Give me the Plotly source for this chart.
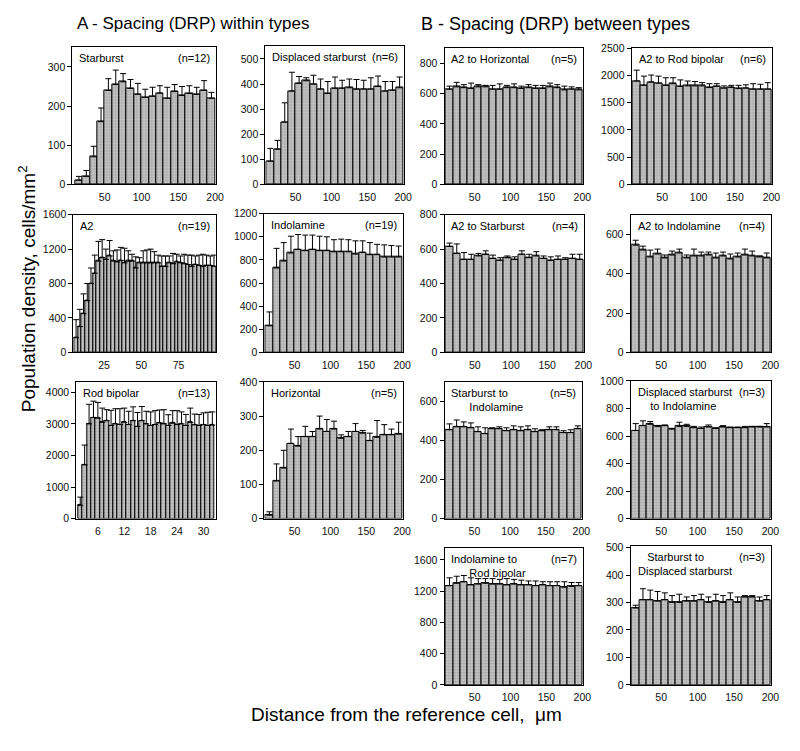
import plotly.graph_objects as go

# The page body has an 8px margin; the figure is sized so page = 800x751.
OFF = 8
FW, FH = 800 - 2 * OFF, 751 - 2 * OFF


def px(x):
    return (x - OFF) / FW


def py(y):
    return 1 - (y - OFF) / FH


# ---------------- data ----------------
dist10 = [15, 25, 35, 45, 55, 65, 75, 85, 95, 105, 115, 125, 135, 145, 155, 165, 175, 185, 195]
dist_a2 = [6.25, 8.75, 11.25, 13.75, 16.25, 18.75, 21.25, 23.75, 26.25, 28.75, 31.25, 33.75,
           36.25, 38.75, 41.25, 43.75, 46.25, 48.75, 51.25, 53.75, 56.25, 58.75, 61.25, 63.75,
           66.25, 68.75, 71.25, 73.75, 76.25, 78.75, 81.25, 83.75, 86.25, 88.75, 91.25, 93.75,
           96.25, 98.75]
dist_rb = [2, 3, 4, 5, 6, 7, 8, 9, 10, 11, 12, 13, 14, 15, 16, 17, 18, 19, 20, 21, 22, 23, 24,
           25, 26, 27, 28, 29, 30, 31, 32]

starburst_mean = [10, 20, 70, 160, 240, 255, 262, 245, 230, 222, 225, 233, 220, 237, 227, 232, 230, 240, 220]
starburst_upper = [20, 35, 97, 195, 270, 292, 283, 268, 258, 243, 248, 252, 248, 255, 250, 252, 248, 265, 235]

dsb_mean = [92, 140, 248, 372, 403, 413, 400, 380, 362, 383, 383, 385, 380, 380, 380, 390, 372, 375, 385]
dsb_upper = [143, 175, 325, 447, 430, 425, 435, 420, 410, 428, 415, 420, 418, 415, 425, 432, 410, 410, 428]

a2_mean = [170, 300, 450, 600, 800, 920, 1060, 1100, 1080, 1120, 1060, 1050, 1070, 1040, 1060,
           1060, 980, 1040, 1040, 1040, 1040, 1040, 1040, 1000, 1000, 1040, 1030, 1050, 1040,
           1030, 1020, 1000, 1020, 1010, 1000, 1010, 1010, 1000]
a2_upper = [380, 500, 680, 800, 980, 1130, 1290, 1310, 1200, 1300, 1180, 1190, 1220, 1210, 1180,
            1140, 1110, 1100, 1180, 1190, 1200, 1170, 1130, 1120, 1120, 1120, 1150, 1140, 1120,
            1140, 1130, 1130, 1120, 1130, 1140, 1130, 1120, 1130]

ind_mean = [230, 730, 790, 860, 890, 880, 890, 880, 880, 870, 870, 870, 850, 865, 845, 845, 825, 825, 825]
ind_upper = [350, 900, 950, 1005, 1020, 1015, 1015, 1005, 1000, 975, 980, 975, 965, 965, 950, 935, 930, 925, 920]

rb_mean = [420, 1700, 3000, 3200, 3180, 3050, 3100, 2950, 3000, 2980, 3050, 2980, 3100, 2920, 3100,
           3000, 2950, 2980, 3030, 3000, 2950, 3020, 2980, 3000, 2950, 3050, 2970, 2950, 2980, 2950, 2960]
rb_upper = [680, 2330, 3620, 3720, 3680, 3500, 3450, 3430, 3480, 3480, 3500, 3400, 3540, 3360, 3550,
            3400, 3380, 3420, 3440, 3450, 3290, 3420, 3420, 3380, 3300, 3500, 3310, 3300, 3350, 3370, 3380]

hor_mean = [10, 110, 148, 220, 212, 240, 240, 262, 255, 262, 235, 240, 255, 250, 228, 238, 245, 245, 247]
hor_upper = [20, 160, 200, 262, 240, 270, 255, 300, 290, 285, 245, 255, 278, 258, 250, 287, 275, 262, 282]

a2h_mean = [630, 645, 640, 635, 645, 645, 630, 630, 640, 640, 635, 640, 635, 635, 645, 640, 625, 630, 625]
a2h_upper = [650, 675, 660, 670, 660, 655, 655, 665, 655, 665, 650, 660, 655, 655, 670, 660, 650, 645, 640]

a2rb_mean = [1900, 1820, 1880, 1860, 1820, 1850, 1800, 1810, 1810, 1810, 1780, 1800, 1770, 1780, 1760, 1770, 1750, 1750, 1750]
a2rb_upper = [2100, 1990, 2010, 1990, 1960, 1960, 1920, 1900, 1890, 1870, 1850, 1850, 1810, 1820, 1820, 1830, 1850, 1840, 1870]

a2s_mean = [615, 575, 540, 540, 560, 570, 545, 535, 550, 540, 570, 550, 560, 545, 535, 540, 540, 545, 540]
a2s_upper = [635, 630, 580, 570, 575, 590, 565, 550, 560, 555, 590, 570, 585, 560, 555, 560, 550, 570, 570]

a2i_mean = [545, 520, 485, 500, 480, 495, 505, 480, 490, 490, 495, 480, 490, 475, 485, 495, 490, 485, 480]
a2i_upper = [570, 540, 520, 525, 495, 515, 525, 495, 525, 510, 510, 505, 510, 500, 505, 525, 515, 490, 505]

si_mean = [455, 470, 470, 465, 445, 435, 460, 460, 450, 455, 450, 455, 445, 450, 455, 455, 440, 440, 460]
si_upper = [485, 505, 495, 490, 470, 465, 465, 470, 465, 475, 470, 475, 460, 455, 470, 470, 450, 455, 475]

dsi_mean = [640, 675, 685, 670, 675, 650, 670, 670, 660, 655, 665, 655, 665, 660, 660, 660, 665, 665, 665]
dsi_upper = [690, 710, 705, 675, 680, 655, 700, 685, 670, 665, 680, 660, 675, 665, 665, 670, 670, 670, 690]

irb_mean = [1270, 1300, 1320, 1280, 1290, 1300, 1290, 1290, 1280, 1290, 1280, 1280, 1270, 1280, 1270, 1270, 1250, 1260, 1270]
irb_upper = [1370, 1390, 1400, 1370, 1360, 1360, 1360, 1350, 1360, 1350, 1340, 1330, 1330, 1320, 1320, 1320, 1320, 1310, 1310]

sds_mean = [280, 310, 310, 305, 310, 300, 300, 305, 305, 310, 300, 305, 300, 310, 300, 320, 320, 305, 310]
sds_upper = [290, 350, 345, 340, 335, 325, 330, 320, 325, 330, 320, 330, 325, 335, 320, 325, 325, 320, 325]

ticks10 = [50, 100, 150, 200]
ticks_a2 = [25, 50, 75]
ticks_rb = [6, 12, 18, 24, 30]

# name, n-label, x, mean, upper, bar width, xrange, yrange, yticks, xticks, pixel box (l, r, t, b)
panels = [
    ("Starburst", "(n=12)", dist10, starburst_mean, starburst_upper, 10, [6, 201], [0, 350], [0, 100, 200, 300], ticks10, (73, 218, 42, 181)),
    ("Displaced starburst", "(n=6)", dist10, dsb_mean, dsb_upper, 10, [8, 201], [0, 550], [0, 100, 200, 300, 400, 500], ticks10, (268, 408, 41, 181)),
    ("A2", "(n=19)", dist_a2, a2_mean, a2_upper, 2.5, [4.4, 100], [0, 1600], [0, 400, 800, 1200, 1600], ticks_a2, (74, 218, 212, 352)),
    ("Indolamine", "(n=19)", dist10, ind_mean, ind_upper, 10, [8, 201], [0, 1200], [0, 200, 400, 600, 800, 1000, 1200], ticks10, (267, 407, 211, 352)),
    ("Rod bipolar", "(n=13)", dist_rb, rb_mean, rb_upper, 1, [1.1, 32.8], [0, 4330], [0, 1000, 2000, 3000, 4000], ticks_rb, (77, 218, 382, 521)),
    ("Horizontal", "(n=5)", dist10, hor_mean, hor_upper, 10, [8, 201], [0, 400], [0, 100, 200, 300, 400], ticks10, (267, 407, 382, 521)),
    ("A2 to Horizontal", "(n=5)", dist10, a2h_mean, a2h_upper, 10, [8, 201], [0, 900], [0, 200, 400, 600, 800], ticks10, (449, 589, 43, 181)),
    ("A2 to Rod bipolar", "(n=6)", dist10, a2rb_mean, a2rb_upper, 10, [8, 201], [0, 2500], [0, 500, 1000, 1500, 2000, 2500], ticks10, (638, 780, 43, 181)),
    ("A2 to Starburst", "(n=4)", dist10, a2s_mean, a2s_upper, 10, [8, 201], [0, 800], [0, 200, 400, 600, 800], ticks10, (449, 590, 212, 352)),
    ("A2 to Indolamine", "(n=4)", dist10, a2i_mean, a2i_upper, 10, [8, 201], [0, 700], [0, 200, 400, 600], ticks10, (637, 779, 212, 352)),
    ("Starburst to<br>\u00a0\u00a0\u00a0\u00a0\u00a0\u00a0Indolamine", "(n=5)", dist10, si_mean, si_upper, 10, [8, 201], [0, 700], [0, 200, 400, 600], ticks10, (449, 588, 382, 521)),
    ("Displaced starburst<br>\u00a0\u00a0\u00a0\u00a0to Indolamine", "(n=3)", dist10, dsi_mean, dsi_upper, 10, [8, 201], [0, 1000], [0, 200, 400, 600, 800, 1000], ticks10, (637, 779, 381, 521)),
    ("Indolamine to<br>\u00a0\u00a0\u00a0\u00a0\u00a0\u00a0Rod bipolar", "(n=7)", dist10, irb_mean, irb_upper, 10, [8, 201], [0, 1750], [0, 400, 800, 1200, 1600], ticks10, (449, 589, 551, 690)),
    ("\u00a0\u00a0\u00a0Starburst to<br>Displaced starburst", "(n=3)", dist10, sds_mean, sds_upper, 10, [8, 201], [0, 505], [0, 100, 200, 300, 400, 500], ticks10, (637, 779, 549, 690)),
]

FONT = "Liberation Sans, Arial, sans-serif"
TICKFONT = "Liberation Sans Narrow, Arial Narrow, Liberation Sans, Arial, sans-serif"
fig = go.Figure()
layout = dict(
    width=FW, height=FH, margin=dict(l=0, r=0, t=0, b=0),
    paper_bgcolor="white", plot_bgcolor="white", showlegend=False,
    bargap=0, font=dict(family=FONT, color="black"),
)
annotations = []

for i, (name, nlab, xs, mean, upper, bw, xr, yr, yt, xt, box) in enumerate(panels):
    idx = "" if i == 0 else str(i + 1)
    l, r, t, b = box
    err = [u - m for u, m in zip(upper, mean)]
    fig.add_trace(go.Bar(
        x=xs, y=mean, width=[bw] * len(xs),
        xaxis="x" + idx, yaxis="y" + idx,
        marker=dict(color="#bdbdbd", line=dict(color="black", width=1),
                    pattern=dict(shape=".", fgcolor="#7a7a7a", bgcolor="#c4c4c4", size=3, solidity=0.3)),
        error_y=dict(type="data", symmetric=False, array=err, arrayminus=[0] * len(err),
                     color="black", thickness=1, width=3),
    ))
    common = dict(showline=True, linecolor="black", linewidth=1, mirror=True,
                  showgrid=False, zeroline=False, ticks="outside",
                  tickfont=dict(size=10.5, family=TICKFONT, color="#111"))
    layout["xaxis" + idx] = dict(domain=[px(l), px(r)], range=xr, tickvals=xt, ticklen=3,
                                 tickcolor="rgba(0,0,0,0)", anchor="y" + idx, **common)
    layout["yaxis" + idx] = dict(domain=[py(b), py(t)], range=yr, tickvals=yt, ticklen=4,
                                 tickcolor="black", anchor="x" + idx, **common)
    annotations.append(dict(text=name, xref="paper", yref="paper", x=px(l + 5), y=py(t + 3),
                            xanchor="left", yanchor="top", showarrow=False, align="left",
                            font=dict(size=11, family=FONT, color="black")))
    annotations.append(dict(text=nlab, xref="paper", yref="paper", x=px(r - 4), y=py(t + 3),
                            xanchor="right", yanchor="top", showarrow=False,
                            font=dict(size=11, family=FONT, color="black")))

annotations += [
    dict(text="A - Spacing (DRP) within types", xref="paper", yref="paper", x=px(76), y=py(18),
         xanchor="left", yanchor="middle", showarrow=False, font=dict(size=17, family=FONT)),
    dict(text="B - Spacing (DRP) between types", xref="paper", yref="paper", x=px(423), y=py(18),
         xanchor="left", yanchor="middle", showarrow=False, font=dict(size=18, family=FONT)),
    dict(text="Population density, cells/mm<sup>2</sup>", xref="paper", yref="paper", x=px(28), y=py(287),
         xanchor="center", yanchor="middle", textangle=-90, showarrow=False, font=dict(size=19, family=FONT)),
    dict(text="Distance from the reference cell,  \u03bcm", xref="paper", yref="paper", x=px(411), y=py(720),
         xanchor="center", yanchor="middle", showarrow=False, font=dict(size=19, family=FONT)),
]
layout["annotations"] = annotations
fig.update_layout(**layout)
fig.write_html("out.html")
